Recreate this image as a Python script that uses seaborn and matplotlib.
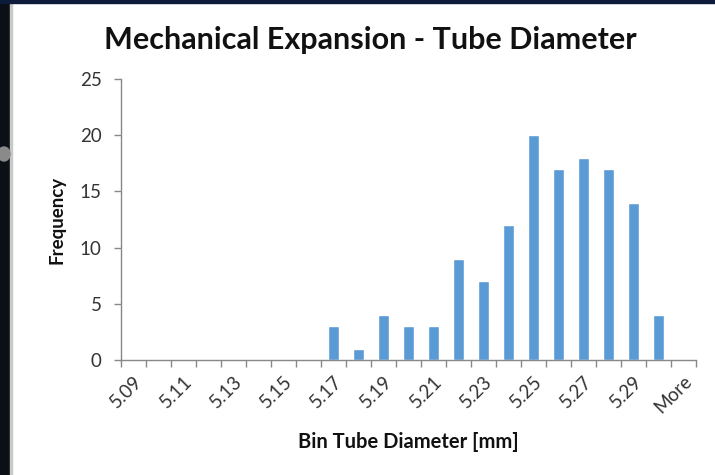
import matplotlib
matplotlib.use("Agg")
import matplotlib.pyplot as plt
import matplotlib.patches as mpatches
import seaborn as sns
import pandas as pd

bins = ["5.09", "5.10", "5.11", "5.12", "5.13", "5.14", "5.15", "5.16",
        "5.17", "5.18", "5.19", "5.20", "5.21", "5.22", "5.23", "5.24",
        "5.25", "5.26", "5.27", "5.28", "5.29", "5.30", "More"]
frequency = [0, 0, 0, 0, 0, 0, 0, 0,
             3, 1, 4, 3, 3, 9, 7, 12,
             20, 17, 18, 17, 14, 4, 0]
shown_labels = ["5.09", "5.11", "5.13", "5.15", "5.17", "5.19",
                "5.21", "5.23", "5.25", "5.27", "5.29", "More"]

df = pd.DataFrame({"bin": bins, "frequency": frequency})

sns.set_theme(style="white")
plt.rcParams["font.family"] = ["Lato", "DejaVu Sans"]

W, H = 715, 475
fig = plt.figure(figsize=(W / 100, H / 100), dpi=100)
fig.patch.set_facecolor("white")

# dark frame around the sheet
fig.patches.append(mpatches.Rectangle((0, 0), 10 / W, 1, transform=fig.transFigure,
                                      color="#0b0f16", zorder=0))
fig.patches.append(mpatches.Rectangle((10 / W, 0), 2 / W, 1, transform=fig.transFigure,
                                      color="#c8c8c8", zorder=0))
fig.patches.append(mpatches.Rectangle((0, 1 - 3 / H), 1, 3 / H, transform=fig.transFigure,
                                      color="#0d1b3a", zorder=0))
fig.patches.append(mpatches.Ellipse((4 / W, 1 - 154 / H), 12 / W, 14 / H,
                                    transform=fig.transFigure, color="#8a8a8a", zorder=1))

left, right, top, bottom = 121, 696, 79, 360
ax = fig.add_axes([left / W, 1 - bottom / H, (right - left) / W, (bottom - top) / H])

sns.barplot(data=df, x="bin", y="frequency", order=bins, color="#5b9bd5",
            width=0.42, ax=ax, saturation=1)

ax.set_xlim(-0.5, len(bins) - 0.5)
ax.set_ylim(0, 25)
ax.set_yticks([0, 5, 10, 15, 20, 25])

# tick marks sit on the category boundaries, labels on every other category
ax.set_xticks([i - 0.5 for i in range(len(bins) + 1)])
ax.set_xticklabels([])
ax.set_xticks([bins.index(b) for b in shown_labels], minor=True)
ax.set_xticklabels(shown_labels, minor=True, rotation=45, ha="right",
                   rotation_mode="anchor", fontsize=13.5, color="#333333")
ax.tick_params(axis="x", which="major", length=5, width=1, color="#888888", direction="out",
               bottom=True)
ax.tick_params(axis="x", which="minor", length=0, pad=9, bottom=True)
ax.tick_params(axis="y", length=5, width=1, color="#888888", direction="out", left=True,
               labelsize=13.5, labelcolor="#333333", pad=9)

for s in ["top", "right"]:
    ax.spines[s].set_visible(False)
for s in ["left", "bottom"]:
    ax.spines[s].set_color("#888888")
    ax.spines[s].set_linewidth(1)

ax.set_xlabel("")
ax.set_ylabel("")
fig.text(408 / W, 1 - 442 / H, "Bin Tube Diameter [mm]", ha="center", va="center",
         fontsize=14.5, fontweight="bold", color="#111111")
fig.text(57 / W, 1 - 220 / H, "Frequency", ha="center", va="center", rotation=90,
         fontsize=13.5, fontweight="bold", color="#111111")

fig.text(370 / W, 1 - 40 / H, "Mechanical Expansion - Tube Diameter", ha="center",
         va="center", fontsize=22, fontweight="bold", color="#111111")

fig.savefig("out.png", dpi=100)
